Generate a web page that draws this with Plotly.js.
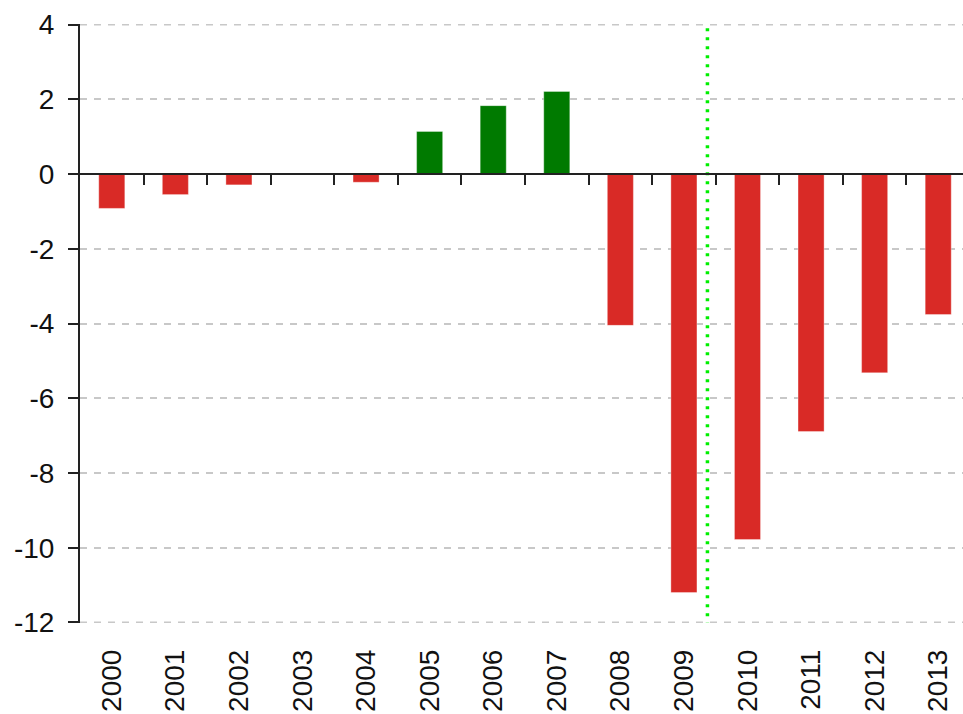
<!DOCTYPE html>
<html>
<head>
<meta charset="utf-8">
<script src="https://cdn.plot.ly/plotly-3.0.1.min.js"></script>
<style>html,body{margin:0;padding:0;background:#fff;overflow:hidden;}#chart{width:963px;height:714px;}</style>
</head>
<body>
<div id="chart"></div>
<script>
const years = ["2000","2001","2002","2003","2004","2005","2006","2007","2008","2009","2010","2011","2012","2013"];
const values = [-0.92,-0.55,-0.29,0,-0.22,1.14,1.83,2.21,-4.05,-11.2,-9.78,-6.89,-5.32,-3.76];
const yTicks = [4,2,0,-2,-4,-6,-8,-10,-12];
const yTickLabels = ["4","2","0","-2","-4","-6","-8","-10","-12"];
const boundaryTicks = [0.5,1.5,2.5,3.5,4.5,5.5,6.5,7.5,8.5,9.5,10.5,11.5,12.5];
const dividerX = 9.37;
const dividerY = [3.9,-12];

const red = "#d92a26", green = "#007a00";
const colors = values.map(v => v >= 0 ? green : red);
const font = {family: "Liberation Sans, Arial, sans-serif", size: 28, color: "#111"};
const xr = [-0.5, 13.39];
const edgeTicks = [yTicks[0], yTicks[yTicks.length - 1]];

const traces = [
  {type: "bar", x: years, y: values, marker: {color: colors, line: {color: "rgba(255,255,255,0.35)", width: 1}},
   hoverinfo: "x+y"},
  {type: "scatter", mode: "lines", x: [dividerX, dividerX], y: dividerY, xaxis: "x2",
   line: {color: "#00ee00", width: 3.5, dash: "3px,6px"}, hoverinfo: "skip"}
];

const layout = {
  width: 963, height: 714,
  margin: {l: 80, r: 0, t: 24, b: 91, pad: 0},
  paper_bgcolor: "#fff", plot_bgcolor: "#fff",
  showlegend: false,
  bargap: 0.59,
  font: font,
  shapes: edgeTicks.map(v => ({type: "line", xref: "paper", yref: "y", x0: 0, x1: 1, y0: v, y1: v,
    layer: "below", line: {color: "#c8c8c8", width: 2, dash: "7px,7px"}})),
  xaxis: {type: "category", range: xr, tickangle: -90, showgrid: false, zeroline: false,
          showline: false, ticks: "", tickfont: font, ticklabelstandoff: 20},
  xaxis2: {range: xr, overlaying: "x", anchor: "free", position: 0.75, showline: true,
           linecolor: "#222", linewidth: 2, ticks: "outside", ticklen: 10, tickwidth: 2,
           tickcolor: "#222", tickvals: boundaryTicks, showticklabels: false,
           showgrid: false, zeroline: false},
  yaxis: {range: [-12.015, 4.015], tickvals: yTicks, ticktext: yTickLabels, showline: true,
          linecolor: "#222", linewidth: 2,
          ticks: "outside", ticklen: 10, tickwidth: 2, tickcolor: "#222",
          showgrid: true, gridcolor: "#c8c8c8", gridwidth: 2, griddash: "7px,7px",
          zeroline: false, tickfont: font, ticklabelstandoff: 8}
};

Plotly.newPlot("chart", traces, layout, {displayModeBar: false, staticPlot: true});
</script>
</body>
</html>
